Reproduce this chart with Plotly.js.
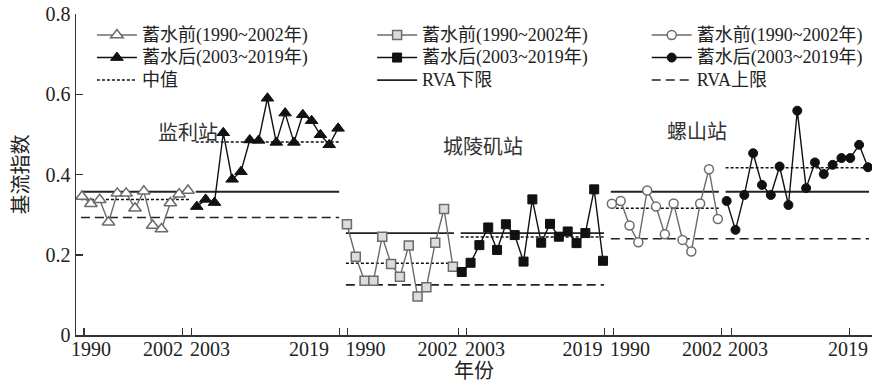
<!DOCTYPE html>
<html>
<head>
<meta charset="utf-8">
<script src="https://cdn.plot.ly/plotly-3.0.1.min.js"></script>
<style>
  html, body { margin: 0; padding: 0; background: #ffffff; }
  #chart { width: 872px; height: 391px; }
</style>
</head>
<body>
<div id="chart"></div>
<script>
// Baseflow index at three stations, before and after impoundment
const stationNames = ['监利站', '城陵矶站', '螺山站'];
const preYears  = [1990, 1991, 1992, 1993, 1994, 1995, 1996, 1997, 1998, 1999, 2000, 2001, 2002];
const postYears = [2003, 2004, 2005, 2006, 2007, 2008, 2009, 2010, 2011, 2012, 2013, 2014, 2015, 2016, 2017, 2018, 2019];

const jianliPre  = [0.345, 0.327, 0.337, 0.281, 0.353, 0.353, 0.316, 0.358, 0.273, 0.264, 0.329, 0.351, 0.360];
const jianliPost = [0.320, 0.338, 0.330, 0.504, 0.388, 0.407, 0.486, 0.485, 0.590, 0.480, 0.553, 0.480, 0.549, 0.534, 0.499, 0.474, 0.515];

const chenglingjiPre  = [0.276, 0.195, 0.135, 0.135, 0.245, 0.177, 0.145, 0.223, 0.096, 0.119, 0.230, 0.314, 0.170];
const chenglingjiPost = [0.157, 0.180, 0.224, 0.268, 0.212, 0.276, 0.249, 0.183, 0.338, 0.230, 0.277, 0.245, 0.258, 0.229, 0.254, 0.363, 0.185];

const luoshanPre  = [0.327, 0.334, 0.273, 0.231, 0.360, 0.320, 0.251, 0.328, 0.237, 0.208, 0.328, 0.413, 0.289];
const luoshanPost = [0.334, 0.262, 0.349, 0.453, 0.374, 0.349, 0.420, 0.324, 0.559, 0.366, 0.430, 0.401, 0.424, 0.441, 0.441, 0.474, 0.418];

// reference levels per station
const medianPre   = [0.338, 0.179, 0.316];
const medianPost  = [0.481, 0.244, 0.417];
const rvaLower    = [0.357, 0.254, 0.357];   // solid line
const rvaUpper    = [0.293, 0.125, 0.240];   // dashed line

const yearLabels = ['1990', '2002', '2003', '2019'];

// ---------- drawing ----------
const FONT = "'Liberation Serif', 'Noto Sans CJK SC', serif";
const INK = '#222222';
const GREY = '#6b6b6b';
const SPAN = 30; // slots per station panel

function pos(station, year) { return station * SPAN + (year - 1990); }

const preSets  = [jianliPre, chenglingjiPre, luoshanPre];
const postSets = [jianliPost, chenglingjiPost, luoshanPost];
const symbols  = ['triangle-up', 'square', 'circle'];
const preFill  = ['#ffffff', '#dcdcdc', '#ffffff'];
const markerSize = [11, 9, 9];
const legendIds = ['legend', 'legend2', 'legend3'];

function lbl(t) { return '<span style="font-size:18px">' + t + '</span>'; }

const traces = [];
for (let s = 0; s < 3; s++) {
  traces.push({
    x: preYears.map(y => pos(s, y)), y: preSets[s],
    mode: 'lines+markers', cliponaxis: false,
    line: { color: GREY, width: 1.4 },
    marker: { symbol: symbols[s], size: markerSize[s], color: preFill[s], line: { color: GREY, width: 1.5 } },
    name: lbl('蓄水前(1990~2002年)'), legend: legendIds[s], legendrank: 1
  });
  traces.push({
    x: postYears.map(y => pos(s, y)), y: postSets[s],
    mode: 'lines+markers', cliponaxis: false,
    line: { color: '#111111', width: 1.4 },
    marker: { symbol: symbols[s], size: markerSize[s], color: '#111111', line: { color: '#111111', width: 1 } },
    name: lbl('蓄水后(2003~2019年)'), legend: legendIds[s], legendrank: 2
  });
}

// horizontal level segments, one per period, separated by gaps
const PAD = 0.12;
function segments(preVals, postVals) {
  const xs = [], ys = [];
  for (let s = 0; s < 3; s++) {
    xs.push(pos(s, preYears[0]) - PAD, pos(s, preYears[preYears.length - 1]) + PAD, null);
    ys.push(preVals[s], preVals[s], null);
    xs.push(pos(s, postYears[0]) - PAD, pos(s, postYears[postYears.length - 1]) + PAD, null);
    ys.push(postVals[s], postVals[s], null);
  }
  return { x: xs, y: ys };
}

const med = segments(medianPre, medianPost);
const low = segments(rvaLower, rvaLower);
const up  = segments(rvaUpper, rvaUpper);

// reference lines go first so the series sit on top of them
const refTraces = [
  { x: med.x, y: med.y, mode: 'lines', connectgaps: false,
    line: { color: '#111111', width: 1.5, dash: '3px,2px' }, name: lbl('中值'), legend: 'legend', legendrank: 3 },
  { x: low.x, y: low.y, mode: 'lines', connectgaps: false,
    line: { color: '#222222', width: 1.8 }, name: lbl('RVA下限'), legend: 'legend2', legendrank: 3 },
  { x: up.x, y: up.y, mode: 'lines', connectgaps: false,
    line: { color: '#222222', width: 1.6, dash: '9px,5px' }, name: lbl('RVA上限'), legend: 'legend3', legendrank: 3 }
];

// axis ticks (break marks) and year label positions
const tickMarks   = [0.23, 11.40, 12.42, 29.14, 30.04, 42.61, 43.56, 59.14, 60.16, 72.44, 73.57, 86.89];
const labelSpots  = [1.02, 9.17, 14.49, 25.70, 32.10, 40.26, 45.63, 56.68, 62.05, 70.21, 75.42, 86.75];
const labelTexts  = [].concat(yearLabels, yearLabels, yearLabels);
const XR = [-0.68, 89.46];

// invisible trace so the year-label axis is drawn
const labelAxisTrace = { x: [XR[0]], y: [null], xaxis: 'x2', yaxis: 'y', showlegend: false, hoverinfo: 'skip', mode: 'markers' };

const legendBase = {
  orientation: 'v', xanchor: 'left', yanchor: 'top', y: 0.985,
  bgcolor: 'rgba(0,0,0,0)', borderwidth: 0, itemwidth: 40,
  font: { family: FONT, size: 15, color: INK }, traceorder: 'normal',
  tracegroupgap: 0
};

const layout = {
  width: 872, height: 391,
  margin: { l: 76, r: 0, t: 14, b: 56 },
  paper_bgcolor: '#ffffff', plot_bgcolor: '#ffffff',
  font: { family: FONT, color: INK, size: 20 },
  showlegend: true,
  legend:  Object.assign({}, legendBase, { x: 0.02 }),
  legend2: Object.assign({}, legendBase, { x: 0.372 }),
  legend3: Object.assign({}, legendBase, { x: 0.717 }),
  xaxis: {
    range: XR, showgrid: false, zeroline: false,
    showline: true, linecolor: '#333333', linewidth: 1.5,
    ticks: 'inside', ticklen: 7, tickwidth: 1.5, tickcolor: '#333333',
    tickmode: 'array', tickvals: tickMarks, showticklabels: false
  },
  xaxis2: {
    overlaying: 'x', anchor: 'y', side: 'bottom', range: XR,
    showgrid: false, zeroline: false, showline: false, ticks: '',
    tickmode: 'array', tickvals: labelSpots, ticktext: labelTexts,
    tickfont: { family: FONT, size: 20, color: INK },
    title: { text: '年份', font: { family: FONT, size: 20, color: INK }, standoff: 4 }
  },
  yaxis: {
    range: [0, 0.8], showgrid: false, zeroline: false,
    showline: true, linecolor: '#333333', linewidth: 1.5,
    ticks: 'inside', ticklen: 7, tickwidth: 1.5, tickcolor: '#333333',
    tickmode: 'array', tickvals: [0, 0.2, 0.4, 0.6, 0.8],
    ticktext: ['0', '0.2', '0.4', '0.6', '0.8'],
    tickfont: { family: FONT, size: 20, color: INK },
    title: { text: '基流指数', font: { family: FONT, size: 20, color: INK }, standoff: 11 }
  },
  annotations: [
    { x: 12.0, y: 0.504, text: stationNames[0] },
    { x: 45.4, y: 0.469, text: stationNames[1] },
    { x: 69.6, y: 0.506, text: stationNames[2] }
  ].map(a => Object.assign(a, { xref: 'x', yref: 'y', showarrow: false,
      font: { family: FONT, size: 20, color: '#333333' } }))
};

Plotly.newPlot('chart', refTraces.concat(traces, [labelAxisTrace]), layout, { staticPlot: true, displayModeBar: false });
</script>
</body>
</html>
